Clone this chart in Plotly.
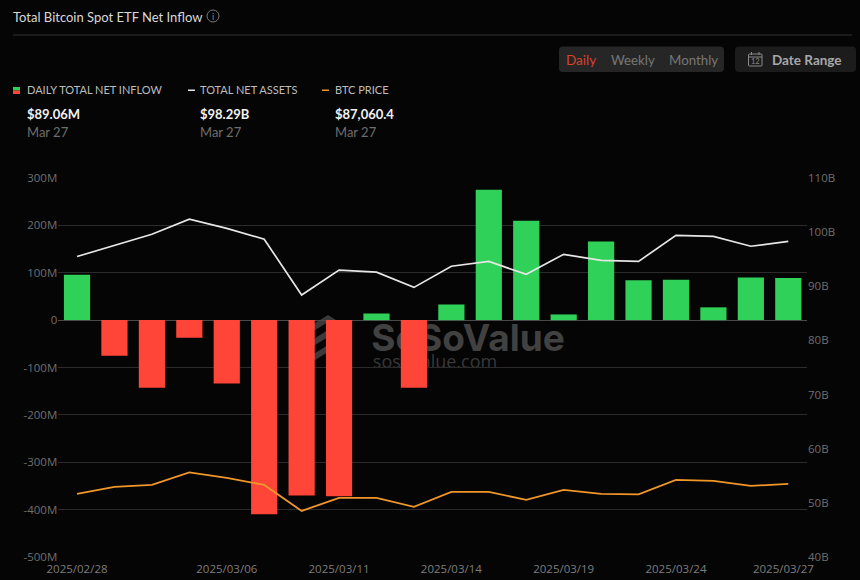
import plotly.graph_objects as go

W, H = 860, 580

# data
dates = ["2025/02/28", "2025/03/03", "2025/03/04", "2025/03/05", "2025/03/06",
         "2025/03/07", "2025/03/10", "2025/03/11", "2025/03/12", "2025/03/13",
         "2025/03/14", "2025/03/17", "2025/03/18", "2025/03/19", "2025/03/20",
         "2025/03/21", "2025/03/24", "2025/03/25", "2025/03/26", "2025/03/27"]
net_inflow = [96, -75, -143, -37, -134, -410, -370, -372, 14, -143,
              33, 275, 210, 12, 166, 84, 85, 27, 90, 89.06]
net_assets = [95.5, 97.5, 99.6, 102.4, 100.7, 98.7, 88.4, 93.0, 92.6, 89.8,
              93.7, 94.6, 92.2, 95.9, 94.8, 94.6, 99.4, 99.2, 97.4, 98.29]
btc_price = [83890, 86110, 86740, 90700, 88960, 86740, 78500, 82620, 82620, 79770,
             84520, 84520, 81990, 85160, 83890, 83730, 88330, 88010, 86430, 87060.4]

x_ticks = ["2025/02/28", "2025/03/06", "2025/03/11", "2025/03/14",
           "2025/03/19", "2025/03/24", "2025/03/27"]
left_vals = [300, 200, 100, 0, -100, -200, -300, -400, -500]
left_text = ["300M", "200M", "100M", "0", "-100M", "-200M", "-300M", "-400M", "-500M"]
right_vals = [110, 100, 90, 80, 70, 60, 50, 40]
right_text = ["110B", "100B", "90B", "80B", "70B", "60B", "50B", "40B"]

BG = "#050505"
GREEN = "#2fd158"
RED = "#ff4438"
ORANGE = "#f0962a"
WHITE = "#e6e6e6"
TICK = "#6f6f6f"
GRID = "#2b2b2b"
FONT = "Lato, 'Open Sans', sans-serif"


def px(x):
    return x / W


def py(y):
    return 1 - y / H


def rounded(x0, y0, x1, y1, r=4):
    return (f"M{x0+r},{y0} L{x1-r},{y0} Q{x1},{y0} {x1},{y0+r} L{x1},{y1-r} Q{x1},{y1} {x1-r},{y1} "
            f"L{x0+r},{y1} Q{x0},{y1} {x0},{y1-r} L{x0},{y0+r} Q{x0},{y0} {x0+r},{y0} Z")


fig = go.Figure()

fig.add_trace(go.Bar(
    x=dates, y=net_inflow, yaxis="y",
    marker=dict(color=[GREEN if v >= 0 else RED for v in net_inflow], line=dict(width=0)),
    width=0.7,
))
fig.add_trace(go.Scatter(x=dates, y=net_assets, yaxis="y2", mode="lines",
                         line=dict(color=WHITE, width=1.7)))
fig.add_trace(go.Scatter(x=dates, y=btc_price, yaxis="y3", mode="lines",
                         line=dict(color=ORANGE, width=1.8)))

shapes = []
annos = []


def text(x, y, s, size, color, bold=False, family=FONT):
    annos.append(dict(
        x=px(x), y=py(y), xref="paper", yref="paper", xanchor="left", yanchor="middle",
        xshift=-2, text=f"<b>{s}</b>" if bold else s, showarrow=False,
        font=dict(size=size, color=color, family=family),
    ))


def ctext(x, y, s, size, color):
    annos.append(dict(x=px(x), y=py(y), xref="paper", yref="paper", xanchor="center", yanchor="middle",
                      text=s, showarrow=False, font=dict(size=size, color=color, family=FONT)))


def pshape(**kw):
    shapes.append(dict(xref="paper", yref="paper", **kw))


def ppath(d, fill, line=None, width=0):
    parts = d.split(" ")
    out = []
    for p in parts:
        cmd = p[0] if p[0].isalpha() else ""
        body = p[1:] if cmd else p
        if body:
            a, b = body.split(",")
            out.append(f"{cmd}{px(float(a))},{py(float(b))}")
        else:
            out.append(cmd)
    pshape(type="path", path=" ".join(out), fillcolor=fill, line=dict(color=line or fill, width=width),
           layer="below")


def prect(x0, y0, x1, y1, fill):
    pshape(type="rect", x0=px(x0), x1=px(x1), y0=py(y0), y1=py(y1), fillcolor=fill,
           line=dict(width=0), layer="above")


# header
text(13, 16.5, "Total Bitcoin Spot ETF Net Inflow", 13, "#d8d8d8")
pshape(type="circle", x0=px(207), x1=px(219), y0=py(22), y1=py(10),
       line=dict(color="#777777", width=1), fillcolor="rgba(0,0,0,0)")
ctext(213, 16, "i", 9, "#888888")
pshape(type="line", x0=px(13), x1=px(852), y0=py(35), y1=py(35), line=dict(color="#333333", width=1))

# period buttons
ppath(rounded(559, 46.5, 724, 72), "#262626")
ppath(rounded(735, 46.5, 856, 72), "#1c1c1c")
text(566, 59.5, "Daily", 13.5, "#d9412e")
text(610.5, 59.5, "Weekly", 13.3, "#777777")
text(669, 59.5, "Monthly", 13.3, "#777777")
text(772, 59.5, "Date Range", 13.5, "#a8a8a8", bold=True)
ppath(rounded(748.5, 54, 762, 66, 1), "rgba(0,0,0,0)", line="#8a8a8a", width=1)
pshape(type="line", x0=px(748.5), x1=px(762), y0=py(57), y1=py(57), line=dict(color="#8a8a8a", width=1))
pshape(type="line", x0=px(751.5), x1=px(751.5), y0=py(52), y1=py(55), line=dict(color="#8a8a8a", width=1))
pshape(type="line", x0=px(759), x1=px(759), y0=py(52), y1=py(55), line=dict(color="#8a8a8a", width=1))
ctext(755.3, 61.5, "12", 7.5, "#8a8a8a")

# legend block
prect(13, 87, 20, 90.5, GREEN)
prect(13, 90.5, 20, 94, RED)
prect(188, 89.5, 195, 91, WHITE)
prect(322, 89.5, 329, 91, ORANGE)
legend_x = [27, 200, 335]
legend_names = ["DAILY TOTAL NET INFLOW", "TOTAL NET ASSETS", "BTC PRICE"]
legend_vals = ["$89.06M", "$98.29B", "$87,060.4"]
for lx, nm, val in zip(legend_x, legend_names, legend_vals):
    text(lx, 90, nm, 11, "#bdbdbd")
    text(lx, 114, val, 13, "#f2f2f2", bold=True)
    text(lx, 132, "Mar 27", 13, "#6e6e6e")

# watermark sits under the bars
wm = "#414141"
pshape(type="rect", x0=px(370), x1=px(566), y0=py(320), y1=py(352), line=dict(width=0),
       fillcolor="rgba(0,0,0,0)", layer="below",
       label=dict(text="<b>SoSoValue</b>", font=dict(size=37, color=wm, family="Inter, Roboto, sans-serif"),
                  textposition="middle center"))
pshape(type="rect", x0=px(370), x1=px(500), y0=py(352), y1=py(372), line=dict(width=0),
       fillcolor="rgba(0,0,0,0)", layer="below",
       label=dict(text="sosovalue.com", font=dict(size=18, color="#383838", family="Open Sans, sans-serif"),
                  textposition="middle center"))
for off in [0, 15, 30]:
    d = (f"M{px(312)},{py(325+off)} L{px(328)},{py(315+off)} L{px(344)},{py(325+off)} "
         f"L{px(344)},{py(332+off)} L{px(328)},{py(322+off)} L{px(312)},{py(332+off)} Z")
    pshape(type="path", path=d, fillcolor="#3a3a3a", line=dict(width=0), layer="below")

fig.update_layout(
    width=W, height=H,
    margin=dict(l=0, r=0, t=0, b=0, autoexpand=False),
    paper_bgcolor=BG, plot_bgcolor=BG,
    showlegend=False,
    bargap=0.3,
    font=dict(family="'Open Sans', sans-serif", size=11.5, color=TICK),
    # last label is pulled left of its bar so it stays clear of the right axis
    xaxis=dict(domain=[px(58.3), px(807)], type="category", categoryorder="array", categoryarray=dates,
               tickmode="array", tickvals=[0, 4, 7, 10, 13, 16, 18.87], ticktext=x_ticks, showgrid=False,
               zeroline=False, showline=False, ticks="outside", ticklen=1, tickcolor="rgba(0,0,0,0)",
               tickangle=0, tickfont=dict(color="#7d7d7d", size=11.5), anchor="y", automargin=False),
    yaxis=dict(domain=[py(557), py(178)], range=[-500, 300], tickmode="array", tickvals=left_vals,
               ticktext=left_text, gridcolor=GRID, gridwidth=1, zeroline=True, zerolinecolor="#4a4a4a",
               zerolinewidth=1, showline=False, ticks="", automargin=False),
    yaxis2=dict(domain=[py(557), py(178)], range=[40, 110], overlaying="y", side="right", anchor="x",
                tickmode="array", tickvals=right_vals, ticktext=right_text, showgrid=False, zeroline=False,
                showline=False, ticks="", automargin=False),
    yaxis3=dict(domain=[py(557), py(178)], range=[63900, 184000], overlaying="y", side="right", anchor="x",
                visible=False),
    shapes=shapes,
    annotations=annos,
)

fig.write_html("out.html", config={"displayModeBar": False},
               post_script="document.body.style.margin='0';")
